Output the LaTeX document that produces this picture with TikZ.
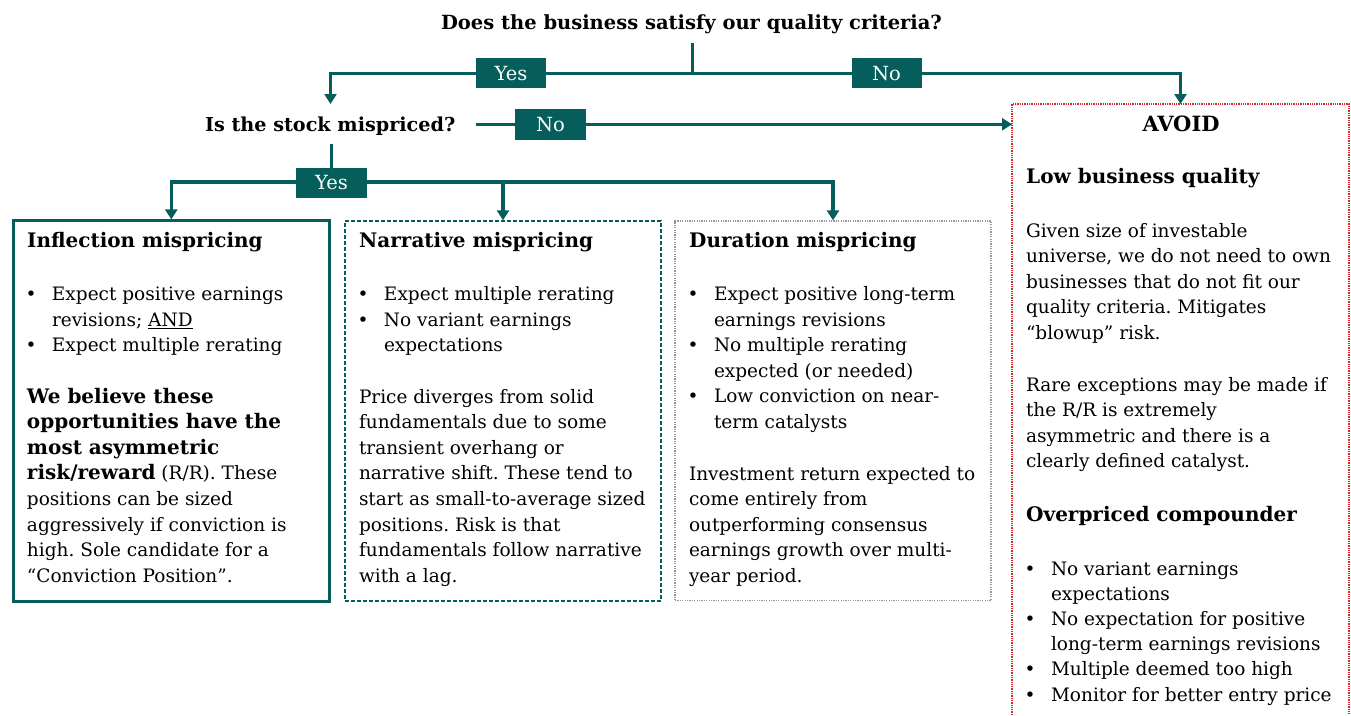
\documentclass[tikz,border=0pt]{standalone}
\usepackage{fontspec}
\setmainfont{DejaVu Serif}
\usetikzlibrary{arrows.meta}
\definecolor{tealc}{RGB}{5,94,91}
\definecolor{avoidred}{RGB}{215,40,40}
\definecolor{dotgray}{RGB}{150,150,150}
\newcommand\bodyfont{\fontsize{18.5}{25.6}\selectfont\frenchspacing}
\newcommand\headfont{\fontsize{20}{25.6}\selectfont\bfseries}
\newcommand\bt[1]{{\headfont #1}}
\newcommand\bu{\makebox[26.5pt][l]{\textbullet}}
\newcommand\ind{\hspace*{26.5pt}}
\begin{document}
\begin{tikzpicture}[x=1pt,y=-1pt,
  conn/.style={draw=tealc, line width=3.6pt},
  arr/.style={-{Triangle[width=12pt,length=10pt]}},
  lbl/.style={fill=tealc, text=white, minimum width=70pt, minimum height=30pt, inner sep=0pt, font=\fontsize{19.5}{24}\selectfont},
  blk/.style={anchor=north west, inner sep=0pt, outer sep=0pt, align=left, font=\bodyfont},
  head/.style={anchor=base west, inner sep=0pt, font=\headfont},
  qtext/.style={anchor=base, inner sep=0pt, font=\fontsize{19.5}{24}\selectfont\bfseries},
  frame/.style={minimum width=316pt, inner sep=0pt}
]
\fill[white] (0,0) rectangle (1351,715);
\useasboundingbox (0,0) rectangle (1351,715);

% boxes
\node[frame, draw=tealc, line width=2.6pt, minimum height=381pt] (b1) at (171.3,411.2) {};
\node[frame, draw=tealc, line width=1.4pt, dash pattern=on 4pt off 2pt, minimum height=380pt] (b2) at (503,411) {};
\node[frame, draw=dotgray, line width=1.3pt, dash pattern=on 1.2pt off 1.2pt, minimum height=379.5pt] (b3) at (833,410.8) {};
\node[minimum width=337pt, minimum height=611pt, inner sep=0pt, outer sep=0pt] (avoid) at (1180.5,409.5) {};
\draw[avoidred, line width=1.5pt, dash pattern=on 1.3pt off 1pt] (avoid.south west) -- (avoid.north west) -- (avoid.north east) -- (avoid.south east);

% questions
\node[qtext] (q1) at (691.5,29.8) {Does the business satisfy our quality criteria?};
\node[qtext, font=\fontsize{19.2}{24}\selectfont\bfseries] (q2) at (330.2,131.7) {Is the stock mispriced?};

% connector points
\coordinate (s1) at (692.5,43);
\coordinate (j1) at (692.5,73.3);
\coordinate (q2top) at (330.5,104);
\coordinate (q2r) at (476,124.3);
\coordinate (q2b) at (331.6,144);
\coordinate (j2) at (331.6,181.7);

\draw[conn] (s1) -- (j1);
\draw[conn,arr] (j1) -| (q2top);
\draw[conn,arr] (j1) -| (avoid.north);
\draw[conn,arr] (q2r) -- (q2r -| avoid.west);
\draw[conn] (q2b) -- (j2);
\draw[conn,arr] (j2) -| (b1.north);
\draw[conn,arr] (j2) -| (b3.north);
\draw[conn,arr] (j2 -| b2.north) -- (b2.north);

% labels
\node[lbl] (yes1) at (511,73.3) {Yes};
\node[lbl] (no1) at (886.5,73.3) {No};
\node[lbl, minimum width=71pt, minimum height=31pt] (no2) at (550.5,124.5) {No};
\node[lbl, minimum width=71pt] (yes2) at (331.6,182.5) {Yes};

% box 1 text
\node[head] (h1) at (27,247) {Inflection mispricing};
\node[blk] (l1) at (25.5,282.6) {\strut\bu Expect positive earnings\\\ind revisions; \underline{AND}\\\bu Expect multiple rerating};
\node[blk] (p1) at (27,385.1) {\strut\bt{We believe these}\\\bt{opportunities have the}\\\bt{most asymmetric}\\\bt{risk/reward} (R/R). These\\positions can be sized\\aggressively if conviction is\\high. Sole candidate for a\\“Conviction Position”.};

% box 2 text
\node[head] (h2) at (359,247) {Narrative mispricing};
\node[blk] (l2) at (357.5,282.6) {\strut\bu Expect multiple rerating\\\bu No variant earnings\\\ind expectations};
\node[blk] (p2) at (359,385.1) {\strut Price diverges from solid\\fundamentals due to some\\transient overhang or\\narrative shift. These tend to\\start as small-to-average sized\\positions. Risk is that\\fundamentals follow narrative\\with a lag.};

% box 3 text
\node[head] (h3) at (689,247) {Duration mispricing};
\node[blk] (l3) at (687.5,282.6) {\strut\bu Expect positive long-term\\\ind earnings revisions\\\bu No multiple rerating\\\ind expected (or needed)\\\bu Low conviction on near-\\\ind term catalysts};
\node[blk] (p3) at (689,462.1) {\strut Investment return expected to\\come entirely from\\outperforming consensus\\earnings growth over multi-\\year period.};

% avoid text
\node[anchor=base, inner sep=0pt, font=\fontsize{21}{26}\selectfont\bfseries] (ah) at (1181,131.7) {AVOID};
\node[head] (h4) at (1026,183.3) {Low business quality};
\node[blk] (p4) at (1026,219.1) {\strut Given size of investable\\universe, we do not need to own\\businesses that do not fit our\\quality criteria. Mitigates\\“blowup” risk.};
\node[blk] (p5) at (1026,373.1) {\strut Rare exceptions may be made if\\the R/R is extremely\\asymmetric and there is a\\clearly defined catalyst.};
\node[head] (h5) at (1026,521) {Overpriced compounder};
\node[blk, font=\fontsize{18.5}{25.2}\selectfont] (l5) at (1024.5,557.4) {\strut\bu No variant earnings\\\ind expectations\\\bu No expectation for positive\\\ind long-term earnings revisions\\\bu Multiple deemed too high\\\bu Monitor for better entry price};
\end{tikzpicture}
\end{document}
